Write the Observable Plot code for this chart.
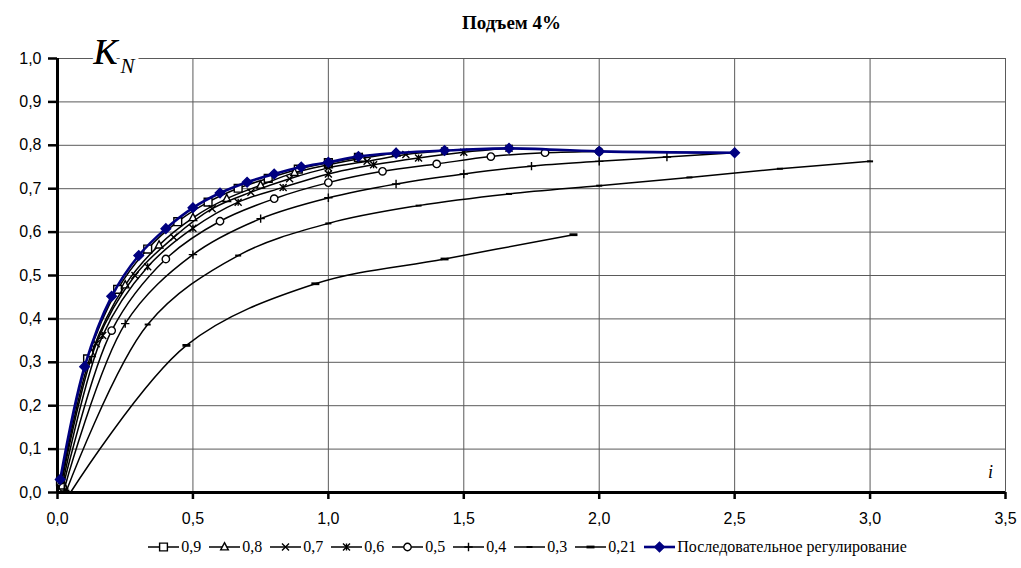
<!DOCTYPE html>
<html><head><meta charset="utf-8">
<script src="https://cdn.jsdelivr.net/npm/d3@7"></script>
<script src="https://cdn.jsdelivr.net/npm/@observablehq/plot@0.6"></script>
<style>
body{margin:0;background:#fff;}
#wrap{width:1021px;height:568px;position:relative;overflow:hidden;background:#fff;}
.serif{font-family:"Liberation Serif","Times New Roman",Times,serif;}
#title{height:40px;line-height:46px;text-align:center;font-weight:bold;font-size:19px;padding-left:2px;}
#legend{height:38px;line-height:26px;display:flex;justify-content:center;align-items:center;font-size:16px;padding-left:42px;margin-top:-2px;}
.item{display:flex;align-items:center;margin-right:8px;white-space:nowrap;}
.item svg{margin-right:2px;}
</style></head>
<body><div id="wrap"><div id="title" class="serif">Подъем 4%</div><div id="chart"></div><div id="legend" class="serif"></div></div>
<script>
// ---- data ----
const seriesNames = ["0,9","0,8","0,7","0,6","0,5","0,4","0,3","0,21","Последовательное регулирование"];
const x09 = [0.011,0.111,0.222,0.333,0.444,0.556,0.667,0.778,0.889,1.0,1.111];
const y09 = [0.025,0.308,0.468,0.561,0.624,0.669,0.701,0.724,0.745,0.760,0.772];
const x08 = [0.0125,0.125,0.25,0.375,0.5,0.625,0.75,0.875,1.0,1.125,1.25];
const y08 = [0.022,0.320,0.478,0.570,0.633,0.677,0.708,0.737,0.755,0.770,0.782];
const x07 = [0.014,0.143,0.286,0.429,0.571,0.714,0.857,1.0,1.143,1.286,1.429];
const y07 = [0.018,0.343,0.500,0.588,0.654,0.692,0.723,0.748,0.763,0.779,0.787];
const x06 = [0.017,0.167,0.333,0.5,0.667,0.833,1.0,1.167,1.333,1.5,1.667];
const y06 = [0.015,0.362,0.520,0.609,0.669,0.703,0.734,0.755,0.771,0.784,0.793];
const x05 = [0.02,0.2,0.4,0.6,0.8,1.0,1.2,1.4,1.6,1.8,2.0];
const y05 = [0.012,0.373,0.538,0.625,0.677,0.714,0.740,0.757,0.774,0.783,0.786];
const x04 = [0.025,0.25,0.5,0.75,1.0,1.25,1.5,1.75,2.0,2.25,2.5];
const y04 = [0.008,0.389,0.548,0.631,0.679,0.711,0.734,0.752,0.763,0.773,0.783];
const x03 = [0.033,0.333,0.667,1.0,1.333,1.667,2.0,2.333,2.667,3.0];
const y03 = [0.004,0.387,0.546,0.620,0.661,0.688,0.707,0.726,0.746,0.763];
const x021 = [0.048,0.476,0.952,1.429,1.905];
const y021 = [0.0,0.339,0.481,0.538,0.594];
const xSeq = [0.01,0.1,0.2,0.3,0.4,0.5,0.6,0.7,0.8,0.9,1.0,1.111,1.25,1.429,1.667,2.0,2.5];
const ySeq = [0.030,0.290,0.452,0.546,0.608,0.656,0.690,0.715,0.734,0.750,0.761,0.774,0.782,0.788,0.793,0.786,0.783];
const xTicks = [0,0.5,1,1.5,2,2.5,3,3.5];
const yTicks = [0,0.1,0.2,0.3,0.4,0.5,0.6,0.7,0.8,0.9,1.0];

// ---- symbols ----
const R = s => Math.sqrt(s/Math.PI);
const symSquare = {draw(c,s){const r=R(s);c.rect(-r,-r,2*r,2*r);}};
const symTri = {draw(c,s){const r=R(s);c.moveTo(0,-r*1.15);c.lineTo(r,r*0.75);c.lineTo(-r,r*0.75);c.closePath();}};
const symX = {draw(c,s){const r=R(s);c.moveTo(-r,-r);c.lineTo(r,r);c.moveTo(-r,r);c.lineTo(r,-r);}};
const symAst = {draw(c,s){const r=R(s);c.moveTo(-r,-r);c.lineTo(r,r);c.moveTo(-r,r);c.lineTo(r,-r);c.moveTo(0,-r);c.lineTo(0,r);}};
const symCirc = {draw(c,s){const r=R(s);c.moveTo(r,0);c.arc(0,0,r,0,2*Math.PI);}};
const symPlus = {draw(c,s){const r=R(s);c.moveTo(-r,0);c.lineTo(r,0);c.moveTo(0,-r);c.lineTo(0,r);}};
const symDash = {draw(c,s){const r=R(s);c.rect(-r,-1,2*r,2);}};
const symDash2 = {draw(c,s){const r=R(s);c.rect(-r,-1.4,2*r,2.8);}};
const symDiam = {draw(c,s){const r=R(s);c.moveTo(0,-r);c.lineTo(r,0);c.lineTo(0,r);c.lineTo(-r,0);c.closePath();}};

const NAVY = "#000080";
const SERIF = "Liberation Serif, Times New Roman, Times, serif";
const specs = [
  {name:seriesNames[0], xs:x09, ys:y09, sym:symSquare, r:3.9, fill:"white", stroke:"black"},
  {name:seriesNames[1], xs:x08, ys:y08, sym:symTri, r:3.8, fill:"white", stroke:"black"},
  {name:seriesNames[2], xs:x07, ys:y07, sym:symX, r:3.5, fill:"none", stroke:"black"},
  {name:seriesNames[3], xs:x06, ys:y06, sym:symAst, r:3.5, fill:"none", stroke:"black"},
  {name:seriesNames[4], xs:x05, ys:y05, sym:symCirc, r:3.7, fill:"white", stroke:"black"},
  {name:seriesNames[5], xs:x04, ys:y04, sym:symPlus, r:4.2, fill:"none", stroke:"black"},
  {name:seriesNames[6], xs:x03, ys:y03, sym:symDash, r:3, fill:"black", stroke:"none"},
  {name:seriesNames[7], xs:x021, ys:y021, sym:symDash2, r:4, fill:"black", stroke:"none"},
  {name:seriesNames[8], xs:xSeq, ys:ySeq, sym:symDiam, r:4.8, fill:NAVY, stroke:NAVY, navy:true}
];
const rows = s => s.xs.map((x,i)=>({x, y:s.ys[i]}));
const fmt = d => d.toFixed(1).replace(".", ",");

const marks = [
  Plot.ruleY(yTicks, {stroke:"#5a5a5a", strokeWidth:1}),
  Plot.ruleX(xTicks, {stroke:"#5a5a5a", strokeWidth:1}),
  Plot.axisX({ticks:xTicks, tickFormat:fmt, tickSize:7, tickPadding:13, strokeWidth:2.5, fontSize:16, label:null}),
  Plot.axisY({ticks:yTicks, tickFormat:fmt, tickSize:9, tickPadding:7, strokeWidth:2.5, fontSize:16, label:null}),
  Plot.ruleX([0], {strokeWidth:3, stroke:"black"}),
  Plot.ruleY([0], {strokeWidth:3, stroke:"black"})
];
for (const s of specs) {
  const d = rows(s);
  marks.push(Plot.line(d, {x:"x", y:"y", stroke: s.navy ? NAVY : "black", strokeWidth: s.navy ? 2.6 : 1.5, curve:"catmull-rom"}));
  marks.push(Plot.dot(d, {x:"x", y:"y", symbol:s.sym, r:s.r, fill:s.fill, stroke:s.stroke, strokeWidth:1.4}));
}
marks.push(Plot.text(["K"], {frameAnchor:"top-left", textAnchor:"start", lineAnchor:"bottom", dx:36, dy:5, fontSize:36, fontStyle:"italic", fontFamily:SERIF, stroke:"white", strokeWidth:8, fill:"black"}));
marks.push(Plot.text(["N"], {frameAnchor:"top-left", textAnchor:"start", lineAnchor:"bottom", dx:63, dy:14, fontSize:21, fontStyle:"italic", fontFamily:SERIF, stroke:"white", strokeWidth:6, fill:"black"}));
marks.push(Plot.text(["K"], {frameAnchor:"top-left", textAnchor:"start", lineAnchor:"bottom", dx:36, dy:5, fontSize:36, fontStyle:"italic", fontFamily:SERIF, fill:"black"}));
marks.push(Plot.text(["i"], {frameAnchor:"bottom-right", textAnchor:"middle", lineAnchor:"bottom", dx:-15, dy:-15, fontSize:18, fontStyle:"italic", fontFamily:SERIF, fill:"black"}));

const chart = Plot.plot({
  width:1021, height:490, marginLeft:57, marginRight:16, marginTop:18, marginBottom:38,
  x:{domain:[0,3.5]}, y:{domain:[0,1]},
  style:{fontFamily:"Liberation Sans, Arial, sans-serif", fontSize:"16px", color:"black", background:"white", overflow:"visible"},
  marks
});
document.getElementById("chart").appendChild(chart);

// ---- legend ----
const leg = document.getElementById("legend");
for (const s of specs) {
  const it = document.createElement("div"); it.className="item";
  const col = s.navy ? NAVY : "black";
  const size = s.r*s.r*Math.PI;
  const p = d3.symbol(s.sym, size)();
  it.innerHTML = `<svg width="31" height="14"><line x1="0" x2="31" y1="7" y2="7" stroke="${col}" stroke-width="${s.navy?2.6:1.5}"/><path transform="translate(15.5,7)" d="${p}" fill="${s.fill}" stroke="${s.stroke}" stroke-width="1.4"/></svg><span>${s.name}</span>`;
  leg.appendChild(it);
}
</script></body></html>
